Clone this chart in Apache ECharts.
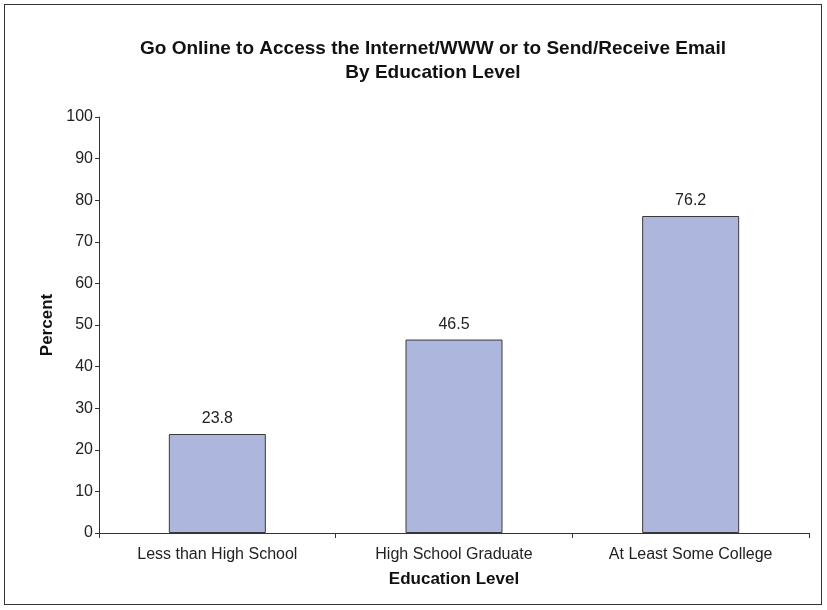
<!DOCTYPE html>
<html>
<head>
<meta charset="utf-8">
<script src="https://cdn.jsdelivr.net/npm/echarts@6/dist/echarts.min.js"></script>
<style>
  html, body { margin: 0; padding: 0; background: #fff; }
  #frame { position: absolute; left: 4px; top: 4px; width: 818px; height: 601px; border: 1px solid #333; box-sizing: border-box; }
  #chart { position: absolute; left: 0; top: 0; width: 827px; height: 610px; }
</style>
</head>
<body>
<div id="frame"></div>
<div id="chart"></div>
<script>
const categories = ['Less than High School', 'High School Graduate', 'At Least Some College'];
const percentValues = [23.8, 46.5, 76.2];
const yTicks = { min: 0, max: 100, interval: 10 };

const chart = echarts.init(document.getElementById('chart'), null, { renderer: 'canvas' });
const font = 'Liberation Sans, Arial, Helvetica, sans-serif';

chart.setOption({
  animation: false,
  backgroundColor: 'transparent',
  title: {
    text: 'Go Online to Access the Internet/WWW or to Send/Receive Email\nBy Education Level',
    left: 428,
    textAlign: 'center',
    top: 32,
    textStyle: { fontFamily: font, fontSize: 19, fontWeight: 'bold', color: '#111', lineHeight: 24 }
  },
  grid: { left: 99, right: 18, top: 117, bottom: 77 },
  xAxis: {
    type: 'category',
    data: categories,
    name: 'Education Level',
    nameLocation: 'middle',
    nameGap: 38,
    nameTextStyle: { fontFamily: font, fontSize: 17, fontWeight: 'bold', color: '#111' },
    axisLine: { lineStyle: { color: '#333', width: 1 } },
    axisTick: { show: true, length: 5, inside: false, lineStyle: { color: '#333' } },
    axisLabel: { fontFamily: font, fontSize: 16, color: '#222', margin: 14 }
  },
  yAxis: {
    type: 'value',
    min: yTicks.min,
    max: yTicks.max,
    interval: yTicks.interval,
    name: 'Percent',
    nameLocation: 'middle',
    nameGap: 41,
    nameTextStyle: { fontFamily: font, fontSize: 17, fontWeight: 'bold', color: '#111' },
    axisLine: { show: true, lineStyle: { color: '#333', width: 1 } },
    axisTick: { show: true, length: 4, lineStyle: { color: '#333' } },
    axisLabel: { fontFamily: font, fontSize: 16, color: '#222', margin: 6 },
    splitLine: { show: false }
  },
  series: [{
    type: 'bar',
    data: percentValues,
    barWidth: 97,
    itemStyle: { color: '#adb7dd', borderColor: '#3a3a3a', borderWidth: 1 },
    label: {
      show: true,
      position: 'top',
      distance: 7,
      fontFamily: font,
      fontSize: 16,
      color: '#222',
      formatter: p => p.value.toFixed(1)
    }
  }]
});
</script>
</body>
</html>
